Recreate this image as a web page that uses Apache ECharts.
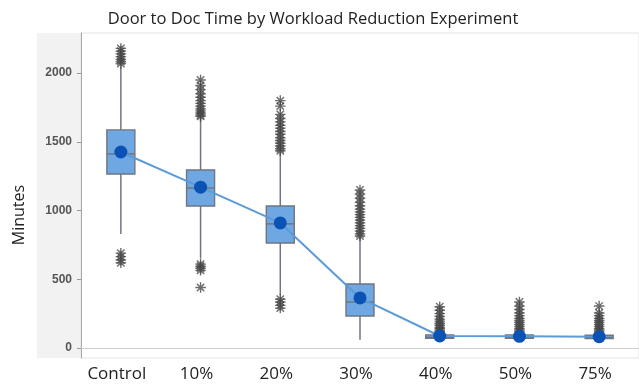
<!DOCTYPE html>
<html>
<head>
<meta charset="utf-8">
<script src="https://cdn.jsdelivr.net/npm/echarts@6/dist/echarts.min.js"></script>
<style>
  html, body { margin: 0; padding: 0; background: #fff; }
  #chart { width: 639px; height: 388px; }
</style>
</head>
<body>
<div id="chart"></div>
<script>
// categories and values
const categories = ['Control', '10%', '20%', '30%', '40%', '50%', '75%'];
// [lower whisker, Q1, median, Q3, upper whisker]
const boxValues = [
  [830, 1266, 1412, 1587, 2045],
  [650, 1033, 1164, 1295, 1675],
  [385, 764, 903, 1033, 1420],
  [60, 233, 335, 466, 800],
  [50, 70, 78, 95, 115],
  [50, 70, 78, 95, 115],
  [50, 68, 76, 93, 112]
];
const meanValues = [1426, 1170, 910, 364, 87, 85, 82];
const outlierValues = [
  [2180, 2160, 2140, 2120, 2100, 2085, 2070, 690, 665, 640, 620],
  [1950, 1910, 1880, 1850, 1825, 1800, 1780, 1760, 1740, 1725, 1710, 1695, 1685, 610, 595, 580, 565, 440],
  [1800, 1760, 1700, 1670, 1645, 1620, 1600, 1575, 1555, 1530, 1510, 1490, 1470, 1450, 1435, 355, 335, 310, 290],
  [1150, 1120, 1090, 1060, 1035, 1010, 990, 970, 950, 930, 910, 890, 870, 850, 830, 815],
  [300, 275, 250, 230, 210, 195, 180, 165, 150, 140, 130, 120],
  [335, 305, 280, 255, 235, 215, 200, 185, 170, 155, 140, 130, 120],
  [305, 255, 235, 215, 200, 185, 170, 155, 140, 130, 120]
];
const yTicks = [0, 500, 1000, 1500, 2000];

const boxData = boxValues.map(function (b, i) { return [i].concat(b); });
const outlierData = [];
outlierValues.forEach(function (list, i) {
  list.forEach(function (v) { outlierData.push([i, v]); });
});

const asterisk = 'path://M5,0L5,10M0,5L10,5M1.5,1.5L8.5,8.5M1.5,8.5L8.5,1.5';
const boxStroke = '#6e7680';

// box without whisker caps, like the original
function renderBox(params, api) {
  const i = api.value(0);
  const x = api.coord([i, 0])[0];
  const y = [1, 2, 3, 4, 5].map(function (d) { return api.coord([i, api.value(d)])[1]; });
  const half = 14;
  const line = { stroke: boxStroke, lineWidth: 1.5 };
  return {
    type: 'group',
    children: [
      { type: 'line', shape: { x1: x, y1: y[0], x2: x, y2: y[1] }, style: line },
      { type: 'line', shape: { x1: x, y1: y[3], x2: x, y2: y[4] }, style: line },
      { type: 'rect', shape: { x: x - half, y: y[3], width: half * 2, height: y[1] - y[3] },
        style: { fill: '#6fa7e3', stroke: boxStroke, lineWidth: 1.4 } },
      { type: 'line', shape: { x1: x - half, y1: y[2], x2: x + half, y2: y[2] }, style: line }
    ]
  };
}

const chart = echarts.init(document.getElementById('chart'));
const option = {
  backgroundColor: '#fff',
  animation: false,
  title: {
    text: 'Door to Doc Time by Workload Reduction Experiment',
    left: 308,
    textAlign: 'center',
    top: 6,
    textStyle: { fontFamily: 'Open Sans', fontSize: 16.5, fontWeight: 'normal', color: '#222' }
  },
  graphic: [
    {
      type: 'rect',
      z: -10,
      shape: { x: 37, y: 33, width: 44, height: 325 },
      style: { fill: '#f2f2f2' }
    },
    {
      type: 'text',
      x: 19, y: 215,
      rotation: Math.PI / 2,
      style: {
        text: 'Minutes', fontFamily: 'Open Sans', fontSize: 16,
        fill: '#222', align: 'center', verticalAlign: 'middle'
      }
    }
  ],
  grid: {
    left: 81, top: 33, right: -11, bottom: 30,
    show: true, borderColor: '#e4e4e4', borderWidth: 1, backgroundColor: '#fff'
  },
  xAxis: {
    type: 'category',
    data: categories,
    boundaryGap: true,
    axisLine: { show: true, lineStyle: { color: '#d0d0d0' } },
    axisTick: { show: false },
    axisLabel: { margin: 8, padding: [0, 8, 0, 0], fontFamily: 'Open Sans', fontSize: 17, color: '#222' },
    splitLine: { show: false }
  },
  yAxis: {
    type: 'value',
    min: -73,
    max: 2292,
    axisLine: { show: true, lineStyle: { color: '#a8a8a8' } },
    axisTick: { show: true, length: 4, customValues: yTicks, lineStyle: { color: '#999' } },
    axisLabel: {
      customValues: yTicks, margin: 9,
      formatter: function (v) { return String(v); },
      fontFamily: 'Liberation Sans', fontSize: 12, fontWeight: 'bold', color: '#555'
    },
    splitLine: { show: false }
  },
  series: [
    {
      type: 'custom',
      data: boxData,
      renderItem: renderBox,
      encode: { x: 0, y: [1, 2, 3, 4, 5] },
      z: 2
    },
    {
      type: 'scatter',
      data: outlierData,
      symbol: asterisk,
      symbolSize: 10.5,
      z: 3,
      itemStyle: { color: 'rgba(0,0,0,0)', borderColor: '#474747', borderWidth: 1.4 }
    },
    {
      type: 'line',
      data: meanValues,
      symbol: 'circle',
      symbolSize: 13,
      z: 4,
      lineStyle: { color: '#5b9bd8', width: 2 },
      itemStyle: { color: '#0a52b4', borderWidth: 0 }
    }
  ]
};
chart.setOption(option);
</script>
</body>
</html>
